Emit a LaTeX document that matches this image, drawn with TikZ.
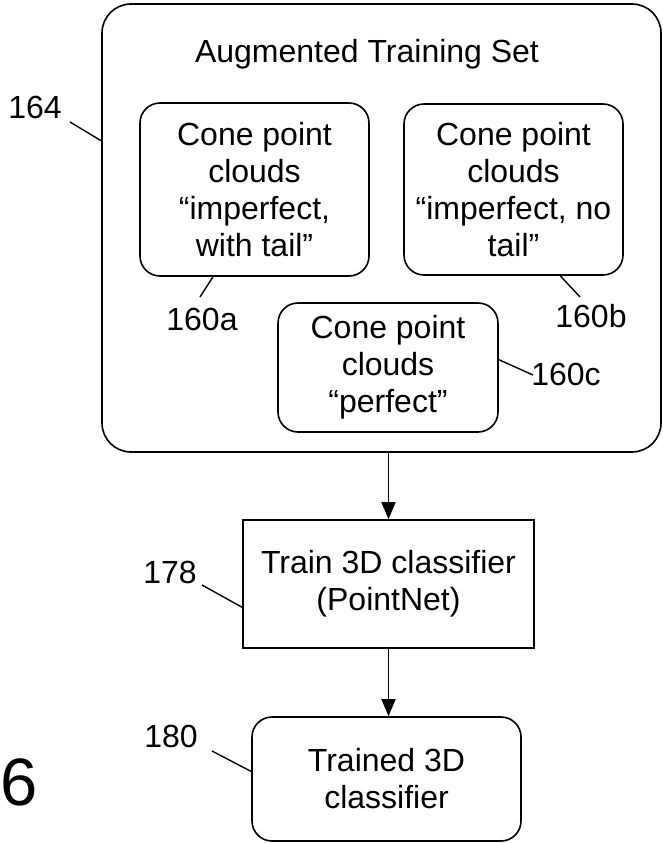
\documentclass[tikz,border=0pt]{standalone}
\usepackage{fontspec}
\setmainfont{Liberation Sans}
\usetikzlibrary{arrows.meta,calc}
\begin{document}
\begin{tikzpicture}[x=1pt,y=-1pt,
  lw/.style={line width=1.6pt},
  box/.style={draw, lw, inner sep=0pt, align=center, font=\fontsize{32}{37}\selectfont},
  rbox/.style={box, rounded corners=20pt},
  lbl/.style={inner sep=0pt, anchor=base, font=\fontsize{32}{37}\selectfont},
  leader/.style={line width=1.4pt},
  arr/.style={lw, -{Triangle[length=17pt,width=14pt]}}
]
\useasboundingbox (0,0) rectangle (662,843);
\node[box, rounded corners=29pt, minimum width=559pt, minimum height=448pt] (outer) at (381.5,228) {};
\node[lbl] (title) at (367,63) {Augmented Training Set};
\node[rbox, minimum width=229pt, minimum height=173pt] (a) at (254.5,189.5) {Cone point\\clouds\\“imperfect,\\with tail”};
\node[rbox, minimum width=219pt, minimum height=171pt] (b) at (513.5,189.5) {Cone point\\clouds\\“imperfect, no\\tail”};
\node[rbox, minimum width=220pt, minimum height=129pt] (c) at (388,367.5) {Cone point\\clouds\\“perfect”};
\node[box, minimum width=291pt, minimum height=128pt] (train) at (388.5,584) {Train 3D classifier\\(PointNet)};
\node[rbox, minimum width=269pt, minimum height=124pt] (trained) at (386.5,779) {Trained 3D\\classifier};

\node[lbl] (l164) at (35,118) {164};
\node[lbl] (l160a) at (202,330) {160a};
\node[lbl] (l160b) at (591,327) {160b};
\node[lbl] (l160c) at (566,385) {160c};
\node[lbl] (l178) at (170,583) {178};
\node[lbl] (l180) at (171,747) {180};
\node[inner sep=0pt, anchor=base west, font=\fontsize{67}{70}\selectfont] (fig) at (0,805) {6};

\coordinate (e164) at (70,122);
\coordinate (ea) at (200,297);
\coordinate (eb) at (580,297);
\coordinate (ec) at (533,375);
\coordinate (e178) at (202,585);
\coordinate (e180) at (212,751);

\draw[leader] ($(outer.north west)!0.306!(outer.south west)$) -- (e164);
\draw[leader] ($(a.south west)!0.32!(a.south east)$) -- (ea);
\draw[leader] ($(b.south west)!0.712!(b.south east)$) -- (eb);
\draw[leader] ($(c.north east)!0.44!(c.south east)$) -- (ec);
\draw[leader] ($(train.north west)!0.68!(train.south west)$) -- (e178);
\draw[leader] ($(trained.north west)!0.44!(trained.south west)$) -- (e180);

\draw[arr] (outer.south -| train.north) -- (train.north);
\draw[arr] (train.south) -- (train.south |- trained.north);
\end{tikzpicture}
\end{document}
